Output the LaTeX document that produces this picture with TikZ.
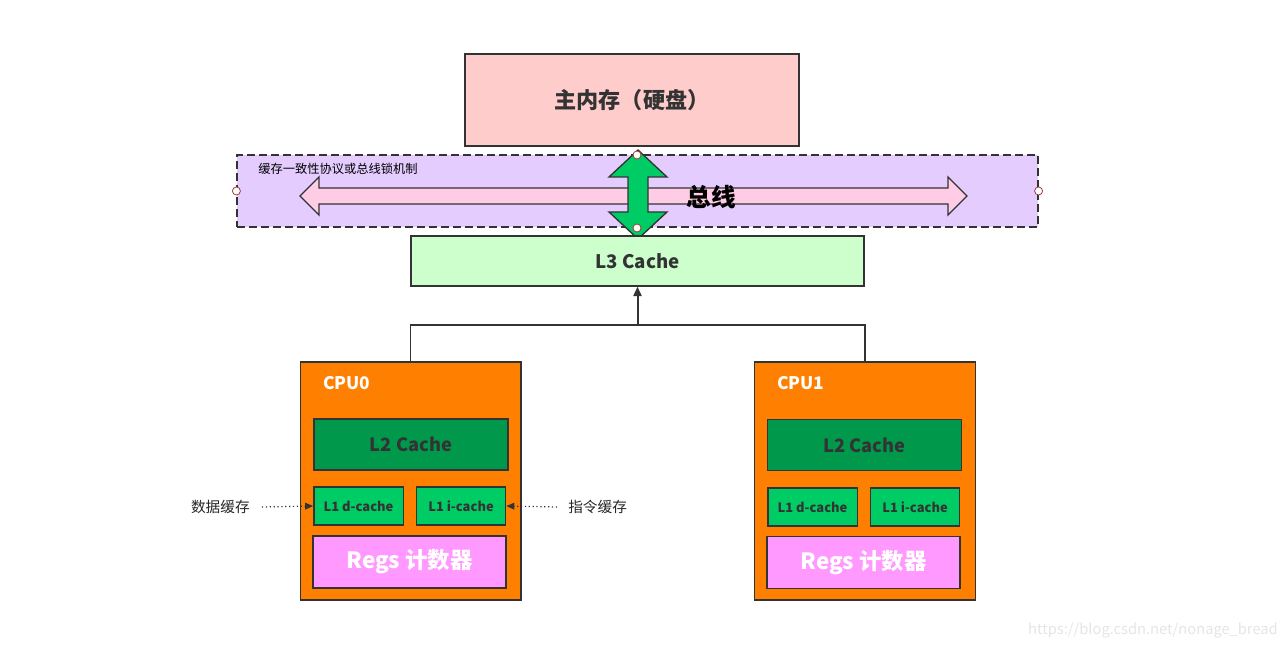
\documentclass[tikz,border=0pt]{standalone}
\usepackage{fontspec}
\setmainfont{Noto Sans CJK SC}
\usetikzlibrary{arrows.meta, positioning}
\definecolor{edge}{HTML}{333333}
\definecolor{mempink}{HTML}{FFCCCC}
\definecolor{buspurple}{HTML}{E5CCFF}
\definecolor{arrowpink}{HTML}{FFCCE6}
\definecolor{busgreen}{HTML}{00CC66}
\definecolor{lthree}{HTML}{CCFFCC}
\definecolor{cpuorange}{HTML}{FF8000}
\definecolor{ltwo}{HTML}{00994C}
\definecolor{regpink}{HTML}{FF99FF}
\definecolor{handle}{HTML}{A33A3A}
\tikzstyle{box} = [
    rectangle,
    inner sep=0pt,
    draw=edge,
    line width=1pt,
    text=edge,
    font=\bfseries
]
\tikzstyle{cpu} = [box, fill=cpuorange, minimum width=165.5pt, minimum height=178.5pt]
\tikzstyle{ltwobox} = [box, fill=ltwo, minimum width=145.5pt, minimum height=38.25pt, font=\bfseries\fontsize{13.7}{16}\selectfont]
\tikzstyle{lonebox} = [box, fill=busgreen, minimum width=67pt, minimum height=28.5pt, font=\bfseries\fontsize{9.7}{11}\selectfont]
\tikzstyle{regbox} = [box, fill=regpink, minimum width=144.75pt, minimum height=39pt, text=white, font=\bfseries\fontsize{16.8}{19}\selectfont]
\tikzstyle{cpulabel} = [text=white, font=\bfseries\fontsize{13}{15}\selectfont, anchor=west, inner sep=0pt]
\tikzstyle{note} = [text=black!85, font=\fontsize{11}{13}\selectfont, inner sep=0pt]
\tikzstyle{handlept} = [circle, draw=handle, fill=white, line width=0.6pt, minimum size=6pt, inner sep=0pt]
\tikzstyle{arrow} = [line width=1.5pt, draw=edge, -{Triangle[length=7pt, width=6pt]}]
\tikzstyle{dotarrow} = [line width=0.9pt, draw=edge, dotted, -{Triangle[length=6pt, width=5pt]}]

\begin{document}
\begin{tikzpicture}[x=0.75pt, y=-0.75pt]
\useasboundingbox (0,0) rectangle (1286,649);

% Nodes
\node (mem) [box, fill=mempink, minimum width=250.5pt, minimum height=69pt,
    font=\bfseries\fontsize{16.6}{19}\selectfont] at (632,100) {主内存（硬盘）};
\node (bus) [rectangle, draw=edge, dash pattern=on 6pt off 3pt, line width=0.9pt, fill=buspurple,
    minimum width=600.75pt, minimum height=54pt, inner sep=0pt] at (637.5,191) {};
\node [anchor=west, inner sep=0pt, font=\fontsize{9.2}{11}\selectfont] at (258,169) {缓存一致性协议或总线锁机制};

% bus arrows
\draw [draw=edge, line width=1pt, fill=arrowpink]
    (300,196) -- (319,177) -- (319,188) -- (948,188) -- (948,177) -- (967,196)
    -- (948,215) -- (948,204) -- (319,204) -- (319,215) -- cycle;
\draw [draw=edge, line width=1pt, fill=busgreen]
    (638,150) -- (667,177) -- (648,177) -- (648,212) -- (667,212) -- (638,239)
    -- (609,212) -- (628,212) -- (628,177) -- (609,177) -- cycle;
\node (buslabel) [font=\bfseries\fontsize{18.5}{21}\selectfont, inner sep=0pt] at (711,197) {总线};

\node (l3) [box, fill=lthree, minimum width=339.75pt, minimum height=37.5pt,
    font=\bfseries\fontsize{14}{16}\selectfont] at (637.5,261) {L3 Cache};

% CPU0
\node (cpu0) [cpu] at (410.5,481) {};
\node [cpulabel] at (323,383) {CPU0};
\node (ltwo0) [ltwobox] at (411,444.5) {L2 Cache};
\node (lone0d) [lonebox] at (358.5,506) {L1 d-cache};
\node (lone0i) [lonebox] at (461,506) {L1 i-cache};
\node (regs0) [regbox] at (409.5,562) {Regs 计数器};

% CPU1
\node (cpu1) [cpu] at (865,481) {};
\node [cpulabel] at (777,383) {CPU1};
\node (ltwo1) [ltwobox] at (864.5,445) {L2 Cache};
\node (lone1d) [lonebox] at (812.5,507) {L1 d-cache};
\node (lone1i) [lonebox] at (915,507) {L1 i-cache};
\node (regs1) [regbox] at (863.5,562.5) {Regs 计数器};

% side notes
\node (datanote) [note, anchor=east] at (250,507) {数据缓存};
\node (instnote) [note, anchor=west] at (568,507) {指令缓存};
\coordinate (datastart) at (262,507);
\coordinate (inststart) at (557,507);
\coordinate (join) at (637.5,325);

% Arrows
\draw [line width=1pt, draw=edge] (cpu0.north) |- (join) -| (cpu1.north);
\draw [arrow] (join) -- (l3.south);
\draw [dotarrow] (datastart) -- (lone0d.west);
\draw [dotarrow] (inststart) -- (lone0i.east);

% handles
\node [handlept] at (bus.west) {};
\node [handlept] at (bus.east) {};
\node [handlept] at (637,155) {};
\node [handlept] at (637,228) {};

% watermark
\node [text=black!10, font=\fontsize{11}{13}\selectfont, anchor=east, inner sep=0pt] at (1278,630) {https://blog.csdn.net/nonage\_bread};
\end{tikzpicture}
\end{document}
